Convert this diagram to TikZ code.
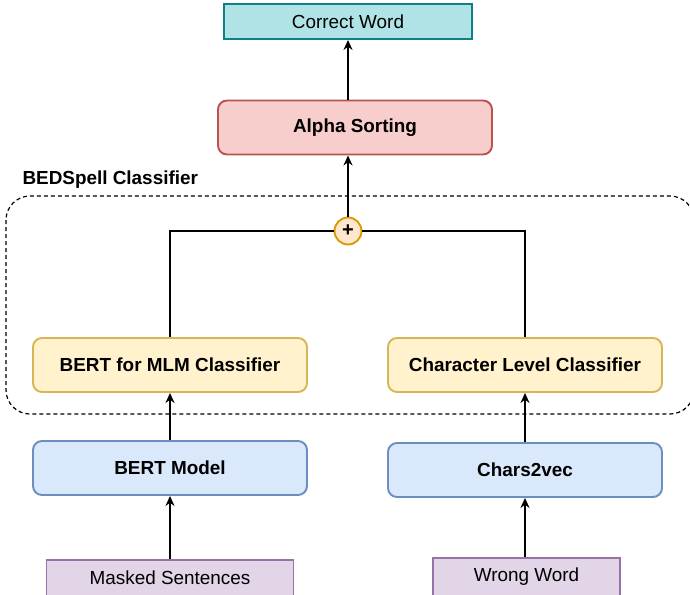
\documentclass[tikz,border=0pt]{standalone}
\usepackage{fontspec}
\setmainfont{Liberation Sans}
\usetikzlibrary{arrows.meta}
\definecolor{tealfill}{HTML}{B0E3E6}
\definecolor{tealline}{HTML}{0E8088}
\definecolor{redfill}{HTML}{F8CECC}
\definecolor{redline}{HTML}{B85450}
\definecolor{yelfill}{HTML}{FFF2CC}
\definecolor{yelline}{HTML}{D6B656}
\definecolor{bluefill}{HTML}{DAE8FC}
\definecolor{blueline}{HTML}{6C8EBF}
\definecolor{purfill}{HTML}{E1D5E7}
\definecolor{purline}{HTML}{9673A6}
\definecolor{orafill}{HTML}{FFE6CC}
\definecolor{oraline}{HTML}{D79B00}
\tikzset{
  box/.style={draw, line width=1.9pt, inner sep=0pt, minimum width=274pt, minimum height=54pt,
    rounded corners=9pt, font=\fontsize{18.9}{22}\selectfont\bfseries},
  plainbox/.style={draw, line width=1.9pt, inner sep=0pt, font=\fontsize{18.9}{22}\selectfont},
  flow/.style={line width=1.9pt, -{Stealth[length=10pt,width=9pt]}},
  wire/.style={line width=1.9pt},
}
\begin{document}
\begin{tikzpicture}[x=1pt,y=-1pt]
\useasboundingbox (0,0) rectangle (690,594);
% classifier group
\draw[line width=1.2pt, dash pattern=on 4pt off 3pt, rounded corners=24pt]
  (6,196) rectangle (694,414);
\node[anchor=west, font=\fontsize{18.9}{22}\selectfont\bfseries] (grp) at (19,180) {BEDSpell Classifier};

% outputs
\node[plainbox, fill=tealfill, draw=tealline, minimum width=248pt, minimum height=35pt] (cw) at (348,21.5) {Correct Word};
\node[box, fill=redfill, draw=redline] (alpha) at (355,127.5) {Alpha Sorting};

% combiner
\node[circle, draw=oraline, fill=orafill, line width=1.9pt, minimum size=27pt, inner sep=0pt,
  font=\fontsize{20}{20}\selectfont\bfseries] (plus) at (348,231) {+};

% classifiers
\node[box, fill=yelfill, draw=yelline] (mlm) at (170,365) {BERT for MLM Classifier};
\node[box, fill=yelfill, draw=yelline] (chr) at (525,365) {Character Level Classifier};

% encoders
\node[box, fill=bluefill, draw=blueline] (bert) at (170,468) {BERT Model};
\node[box, fill=bluefill, draw=blueline] (c2v) at (525,470) {Chars2vec};

% inputs
\node[plainbox, fill=purfill, draw=purline, minimum width=247pt, minimum height=36pt] (ms) at (170,578) {Masked Sentences};
\node[plainbox, fill=purfill, draw=purline, minimum width=187pt, minimum height=38pt] (ww) at (526.5,577) {Wrong Word};

% connectors
\draw[flow] (ms.north) -- (bert.south);
\draw[flow] (ww.north -| c2v) -- (c2v.south);
\draw[flow] (bert.north) -- (mlm.south);
\draw[flow] (c2v.north) -- (chr.south);
\draw[wire] (mlm.north) |- (plus.west);
\draw[wire] (chr.north) |- (plus.east);
\draw[flow] (plus.north) -- (plus.north |- alpha.south);
\draw[flow] (alpha.north -| cw) -- (cw.south);
\end{tikzpicture}
\end{document}
